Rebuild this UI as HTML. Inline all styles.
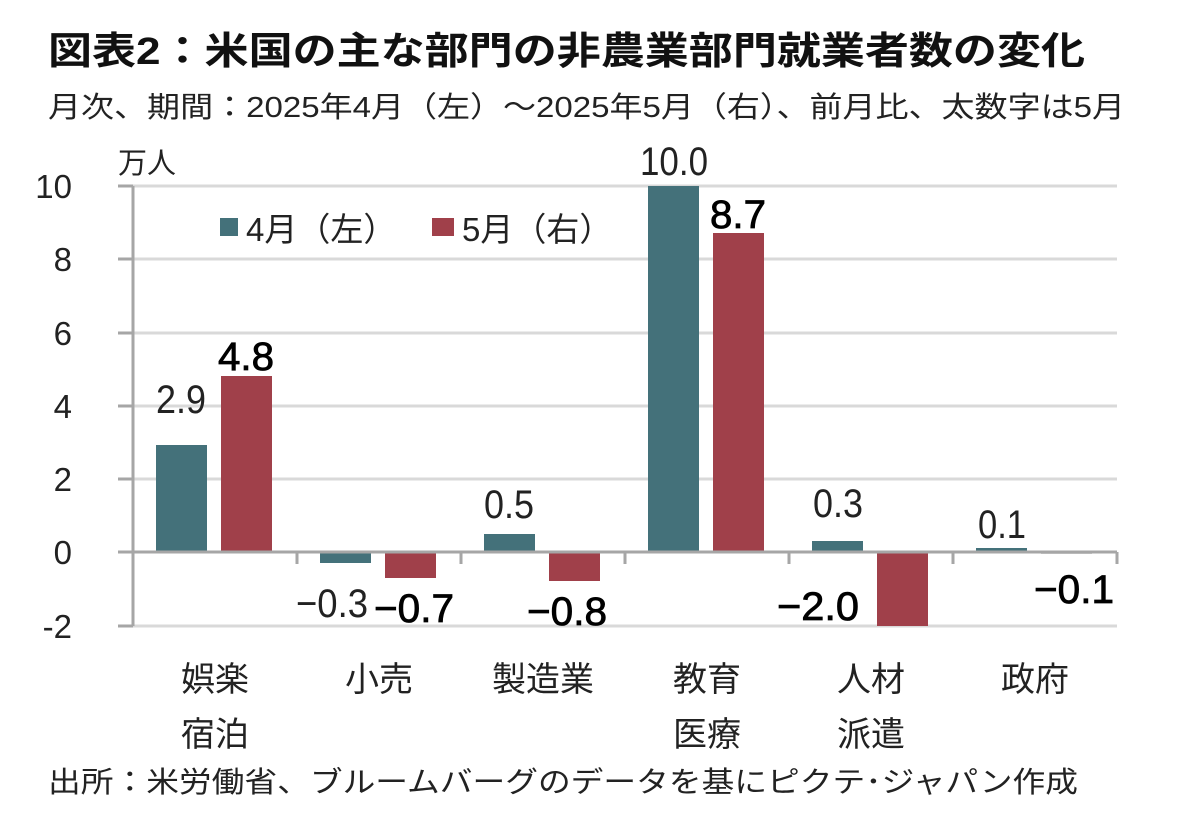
<!DOCTYPE html>
<html><head><meta charset="utf-8"><style>
html,body{margin:0;padding:0;background:#fff;}
svg{display:block;font-family:"Liberation Sans","Noto Sans CJK JP",sans-serif;}
</style></head><body>
<svg width="1182" height="814" viewBox="0 0 1182 814" xmlns="http://www.w3.org/2000/svg">
<rect width="1182" height="814" fill="#fff"/>
<text x="48" y="64" font-size="38" font-weight="bold" fill="#111" textLength="1037" lengthAdjust="spacingAndGlyphs">図表2：米国の主な部門の非農業部門就業者数の変化</text>
<text x="48" y="117" font-size="29" fill="#222" textLength="1077" lengthAdjust="spacingAndGlyphs">月次、期間：2025年4月（左）～2025年5月（右）、前月比、太数字は5月</text>
<text x="118" y="173" font-size="29" fill="#222">万人</text>
<g stroke="#d9d9d9" stroke-width="3">
<line x1="133" x2="1117" y1="186" y2="186"/>
<line x1="133" x2="1117" y1="259" y2="259"/>
<line x1="133" x2="1117" y1="333" y2="333"/>
<line x1="133" x2="1117" y1="406" y2="406"/>
<line x1="133" x2="1117" y1="479" y2="479"/>
<line x1="133" x2="1117" y1="626" y2="626"/>
</g>
<g stroke="#a6a6a6" stroke-width="3">
<line x1="133" x2="133" y1="186" y2="626"/>
<line x1="118" x2="133" y1="186" y2="186"/>
<line x1="118" x2="133" y1="259" y2="259"/>
<line x1="118" x2="133" y1="333" y2="333"/>
<line x1="118" x2="133" y1="406" y2="406"/>
<line x1="118" x2="133" y1="479" y2="479"/>
<line x1="118" x2="133" y1="552" y2="552"/>
<line x1="118" x2="133" y1="626" y2="626"/>
</g>
<g font-size="33" fill="#222" text-anchor="end">
<text x="72" y="198">10</text>
<text x="72" y="271">8</text>
<text x="72" y="345">6</text>
<text x="72" y="418">4</text>
<text x="72" y="491">2</text>
<text x="72" y="564">0</text>
<text x="72" y="638">-2</text>
</g>
<g fill="#44717A">
<rect x="156" y="445" width="51" height="107"/>
<rect x="320" y="552" width="51" height="11"/>
<rect x="484" y="534" width="51" height="18"/>
<rect x="648" y="186" width="51" height="366"/>
<rect x="812" y="541" width="51" height="11"/>
<rect x="976" y="548" width="51" height="4"/>
</g>
<g fill="#A0404A">
<rect x="221" y="376" width="51" height="176"/>
<rect x="385" y="552" width="51" height="26"/>
<rect x="549" y="552" width="51" height="29"/>
<rect x="713" y="233" width="51" height="319"/>
<rect x="877" y="552" width="51" height="74"/>
<rect x="1041" y="552" width="51" height="2" fill="#ccc"/>
</g>
<g stroke="#a6a6a6" stroke-width="3">
<line x1="133" x2="1117" y1="552" y2="552"/>
<line x1="133" x2="133" y1="552" y2="564"/>
<line x1="297" x2="297" y1="552" y2="564"/>
<line x1="461" x2="461" y1="552" y2="564"/>
<line x1="625" x2="625" y1="552" y2="564"/>
<line x1="789" x2="789" y1="552" y2="564"/>
<line x1="953" x2="953" y1="552" y2="564"/>
<line x1="1117" x2="1117" y1="552" y2="564"/>
</g>
<g font-size="40" fill="#222" text-anchor="middle">
<text x="181" y="413" textLength="50" lengthAdjust="spacingAndGlyphs">2.9</text>
<text x="332" y="617" textLength="72" lengthAdjust="spacingAndGlyphs">−0.3</text>
<text x="509" y="518" textLength="50" lengthAdjust="spacingAndGlyphs">0.5</text>
<text x="674" y="175" textLength="68" lengthAdjust="spacingAndGlyphs">10.0</text>
<text x="838" y="517" textLength="50" lengthAdjust="spacingAndGlyphs">0.3</text>
<text x="1002" y="538" textLength="48" lengthAdjust="spacingAndGlyphs">0.1</text>
</g>
<g font-size="40" fill="#000" stroke="#000" stroke-width="0.8" text-anchor="middle">
<text x="246" y="370" textLength="56" lengthAdjust="spacingAndGlyphs">4.8</text>
<text x="414" y="622" textLength="80" lengthAdjust="spacingAndGlyphs">−0.7</text>
<text x="567" y="625" textLength="80" lengthAdjust="spacingAndGlyphs">−0.8</text>
<text x="738" y="228" textLength="56" lengthAdjust="spacingAndGlyphs">8.7</text>
<text x="818" y="620" textLength="82" lengthAdjust="spacingAndGlyphs">−2.0</text>
<text x="1074" y="603" textLength="80" lengthAdjust="spacingAndGlyphs">−0.1</text>
</g>
<rect x="220" y="218" width="18" height="18" fill="#44717A"/>
<text x="246" y="241" font-size="33" fill="#222">4月（左）</text>
<rect x="432" y="218" width="22" height="18" fill="#A0404A"/>
<text x="462" y="241" font-size="33" fill="#222">5月（右）</text>
<g font-size="34" fill="#222" text-anchor="middle">
<text x="215" y="691">娯楽</text>
<text x="215" y="746">宿泊</text>
<text x="379" y="691">小売</text>
<text x="543" y="691">製造業</text>
<text x="707" y="691">教育</text>
<text x="707" y="746">医療</text>
<text x="871" y="691">人材</text>
<text x="871" y="746">派遣</text>
<text x="1035" y="691">政府</text>
</g>
<text x="48" y="792" font-size="29" fill="#222" textLength="1030" lengthAdjust="spacingAndGlyphs">出所：米労働省、ブルームバーグのデータを基にピクテ･ジャパン作成</text>
</svg>
</body></html>
